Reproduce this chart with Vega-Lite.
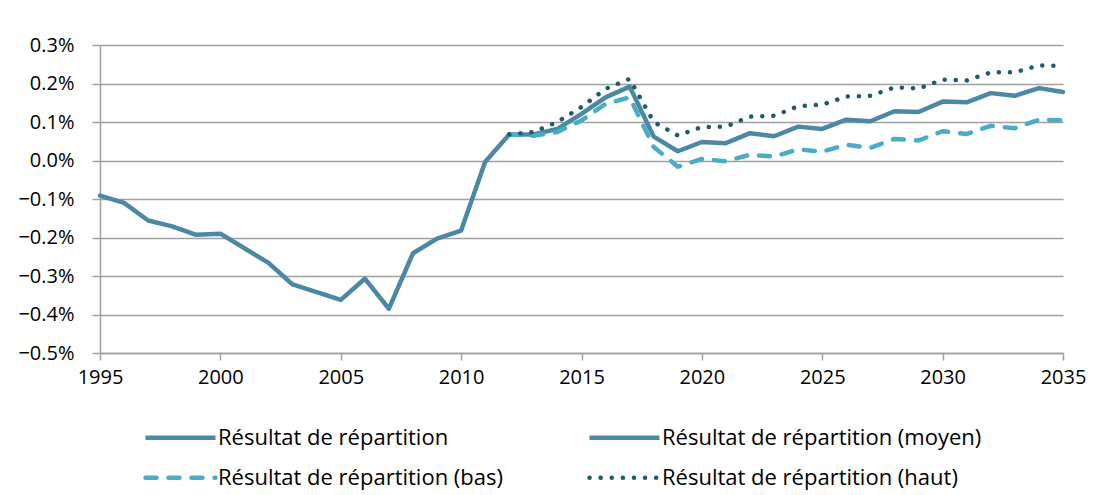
{
  "$schema": "https://vega.github.io/schema/vega-lite/v6.json",
  "autosize": {"type": "none"},
  "width": 963,
  "height": 308,
  "padding": {"left": 100, "top": 45, "right": 40, "bottom": 142},
  "background": "white",
  "config": {
    "view": {"stroke": null},
    "font": "Open Sans",
    "legend": {
      "title": null,
      "orient": "none",
      "direction": "horizontal",
      "columns": 2,
      "symbolType": "stroke",
      "symbolSize": 4900,
      "symbolStrokeWidth": 4.5,
      "labelFontSize": 22,
      "labelColor": "#000000",
      "labelOffset": 0,
      "labelLimit": 500
    }
  },
  "data": {
    "values": [
      {"year": 1995, "value": -0.091, "series": "Résultat de répartition"},
      {"year": 1996, "value": -0.110, "series": "Résultat de répartition"},
      {"year": 1997, "value": -0.156, "series": "Résultat de répartition"},
      {"year": 1998, "value": -0.171, "series": "Résultat de répartition"},
      {"year": 1999, "value": -0.193, "series": "Résultat de répartition"},
      {"year": 2000, "value": -0.190, "series": "Résultat de répartition"},
      {"year": 2001, "value": -0.228, "series": "Résultat de répartition"},
      {"year": 2002, "value": -0.266, "series": "Résultat de répartition"},
      {"year": 2003, "value": -0.322, "series": "Résultat de répartition"},
      {"year": 2004, "value": -0.342, "series": "Résultat de répartition"},
      {"year": 2005, "value": -0.362, "series": "Résultat de répartition"},
      {"year": 2006, "value": -0.307, "series": "Résultat de répartition"},
      {"year": 2007, "value": -0.385, "series": "Résultat de répartition"},
      {"year": 2008, "value": -0.241, "series": "Résultat de répartition"},
      {"year": 2009, "value": -0.203, "series": "Résultat de répartition"},
      {"year": 2010, "value": -0.182, "series": "Résultat de répartition"},
      {"year": 2011, "value": -0.003, "series": "Résultat de répartition"},
      {"year": 2012, "value": 0.0675, "series": "Résultat de répartition"},

      {"year": 2012, "value": 0.0675, "series": "Résultat de répartition (moyen)"},
      {"year": 2013, "value": 0.0675, "series": "Résultat de répartition (moyen)"},
      {"year": 2014, "value": 0.082, "series": "Résultat de répartition (moyen)"},
      {"year": 2015, "value": 0.121, "series": "Résultat de répartition (moyen)"},
      {"year": 2016, "value": 0.164, "series": "Résultat de répartition (moyen)"},
      {"year": 2017, "value": 0.192, "series": "Résultat de répartition (moyen)"},
      {"year": 2018, "value": 0.062, "series": "Résultat de répartition (moyen)"},
      {"year": 2019, "value": 0.024, "series": "Résultat de répartition (moyen)"},
      {"year": 2020, "value": 0.048, "series": "Résultat de répartition (moyen)"},
      {"year": 2021, "value": 0.045, "series": "Résultat de répartition (moyen)"},
      {"year": 2022, "value": 0.071, "series": "Résultat de répartition (moyen)"},
      {"year": 2023, "value": 0.063, "series": "Résultat de répartition (moyen)"},
      {"year": 2024, "value": 0.088, "series": "Résultat de répartition (moyen)"},
      {"year": 2025, "value": 0.082, "series": "Résultat de répartition (moyen)"},
      {"year": 2026, "value": 0.106, "series": "Résultat de répartition (moyen)"},
      {"year": 2027, "value": 0.102, "series": "Résultat de répartition (moyen)"},
      {"year": 2028, "value": 0.128, "series": "Résultat de répartition (moyen)"},
      {"year": 2029, "value": 0.126, "series": "Résultat de répartition (moyen)"},
      {"year": 2030, "value": 0.153, "series": "Résultat de répartition (moyen)"},
      {"year": 2031, "value": 0.151, "series": "Résultat de répartition (moyen)"},
      {"year": 2032, "value": 0.175, "series": "Résultat de répartition (moyen)"},
      {"year": 2033, "value": 0.168, "series": "Résultat de répartition (moyen)"},
      {"year": 2034, "value": 0.188, "series": "Résultat de répartition (moyen)"},
      {"year": 2035, "value": 0.178, "series": "Résultat de répartition (moyen)"},

      {"year": 2012, "value": 0.0675, "series": "Résultat de répartition (bas)"},
      {"year": 2013, "value": 0.064, "series": "Résultat de répartition (bas)"},
      {"year": 2014, "value": 0.074, "series": "Résultat de répartition (bas)"},
      {"year": 2015, "value": 0.104, "series": "Résultat de répartition (bas)"},
      {"year": 2016, "value": 0.147, "series": "Résultat de répartition (bas)"},
      {"year": 2017, "value": 0.164, "series": "Résultat de répartition (bas)"},
      {"year": 2018, "value": 0.035, "series": "Résultat de répartition (bas)"},
      {"year": 2019, "value": -0.016, "series": "Résultat de répartition (bas)"},
      {"year": 2020, "value": 0.004, "series": "Résultat de répartition (bas)"},
      {"year": 2021, "value": -0.002, "series": "Résultat de répartition (bas)"},
      {"year": 2022, "value": 0.015, "series": "Résultat de répartition (bas)"},
      {"year": 2023, "value": 0.010, "series": "Résultat de répartition (bas)"},
      {"year": 2024, "value": 0.029, "series": "Résultat de répartition (bas)"},
      {"year": 2025, "value": 0.023, "series": "Résultat de répartition (bas)"},
      {"year": 2026, "value": 0.041, "series": "Résultat de répartition (bas)"},
      {"year": 2027, "value": 0.033, "series": "Résultat de répartition (bas)"},
      {"year": 2028, "value": 0.056, "series": "Résultat de répartition (bas)"},
      {"year": 2029, "value": 0.052, "series": "Résultat de répartition (bas)"},
      {"year": 2030, "value": 0.076, "series": "Résultat de répartition (bas)"},
      {"year": 2031, "value": 0.069, "series": "Résultat de répartition (bas)"},
      {"year": 2032, "value": 0.090, "series": "Résultat de répartition (bas)"},
      {"year": 2033, "value": 0.084, "series": "Résultat de répartition (bas)"},
      {"year": 2034, "value": 0.106, "series": "Résultat de répartition (bas)"},
      {"year": 2035, "value": 0.104, "series": "Résultat de répartition (bas)"},

      {"year": 2012, "value": 0.0675, "series": "Résultat de répartition (haut)"},
      {"year": 2013, "value": 0.074, "series": "Résultat de répartition (haut)"},
      {"year": 2014, "value": 0.100, "series": "Résultat de répartition (haut)"},
      {"year": 2015, "value": 0.139, "series": "Résultat de répartition (haut)"},
      {"year": 2016, "value": 0.186, "series": "Résultat de répartition (haut)"},
      {"year": 2017, "value": 0.212, "series": "Résultat de répartition (haut)"},
      {"year": 2018, "value": 0.100, "series": "Résultat de répartition (haut)"},
      {"year": 2019, "value": 0.065, "series": "Résultat de répartition (haut)"},
      {"year": 2020, "value": 0.087, "series": "Résultat de répartition (haut)"},
      {"year": 2021, "value": 0.088, "series": "Résultat de répartition (haut)"},
      {"year": 2022, "value": 0.114, "series": "Résultat de répartition (haut)"},
      {"year": 2023, "value": 0.116, "series": "Résultat de répartition (haut)"},
      {"year": 2024, "value": 0.141, "series": "Résultat de répartition (haut)"},
      {"year": 2025, "value": 0.145, "series": "Résultat de répartition (haut)"},
      {"year": 2026, "value": 0.166, "series": "Résultat de répartition (haut)"},
      {"year": 2027, "value": 0.168, "series": "Résultat de répartition (haut)"},
      {"year": 2028, "value": 0.190, "series": "Résultat de répartition (haut)"},
      {"year": 2029, "value": 0.187, "series": "Résultat de répartition (haut)"},
      {"year": 2030, "value": 0.210, "series": "Résultat de répartition (haut)"},
      {"year": 2031, "value": 0.208, "series": "Résultat de répartition (haut)"},
      {"year": 2032, "value": 0.229, "series": "Résultat de répartition (haut)"},
      {"year": 2033, "value": 0.229, "series": "Résultat de répartition (haut)"},
      {"year": 2034, "value": 0.247, "series": "Résultat de répartition (haut)"},
      {"year": 2035, "value": 0.246, "series": "Résultat de répartition (haut)"}
    ]
  },
  "encoding": {
    "x": {
      "field": "year",
      "type": "quantitative",
      "scale": {"domain": [1995, 2035], "nice": false, "zero": false},
      "axis": {
        "title": null,
        "values": [1995, 2000, 2005, 2010, 2015, 2020, 2025, 2030, 2035],
        "format": "d",
        "grid": false,
        "domainColor": "#a0a0a0",
        "domainWidth": 1.5,
        "tickColor": "#a0a0a0",
        "tickWidth": 1.5,
        "tickSize": 7,
        "labelFontSize": 20,
        "labelColor": "#000000",
        "labelPadding": 7,
        "labelFlush": false
      }
    },
    "y": {
      "field": "value",
      "type": "quantitative",
      "scale": {"domain": [-0.5, 0.3], "nice": false, "zero": false},
      "axis": {
        "title": null,
        "values": [-0.5, -0.4, -0.3, -0.2, -0.1, 0, 0.1, 0.2, 0.3],
        "labelExpr": "format(datum.value, '.1f') + '%'",
        "grid": true,
        "gridColor": "#a0a0a0",
        "gridWidth": 1.5,
        "domainColor": "#a0a0a0",
        "domainWidth": 1.5,
        "tickColor": "#a0a0a0",
        "tickWidth": 1.5,
        "tickSize": 8,
        "labelFontSize": 20,
        "labelColor": "#000000",
        "labelPadding": 18
      }
    }
  },
  "layer": [
    {
      "transform": [{"filter": {"field": "series", "oneOf": ["Résultat de répartition", "Résultat de répartition (moyen)"]}}],
      "mark": {"type": "line", "strokeWidth": 4.5, "strokeCap": "round", "strokeJoin": "round"},
      "encoding": {
        "color": {
          "field": "series",
          "type": "nominal",
          "scale": {
            "domain": ["Résultat de répartition", "Résultat de répartition (moyen)"],
            "range": ["#4a89a1", "#4a89a1"]
          },
          "legend": {
            "legendX": 43,
            "legendY": 355,
            "columnPadding": 131
          }
        }
      }
    },
    {
      "transform": [{"filter": {"field": "series", "oneOf": ["Résultat de répartition (bas)", "Résultat de répartition (haut)"]}}],
      "mark": {"type": "line", "strokeWidth": 4.5, "strokeCap": "round", "strokeJoin": "round"},
      "encoding": {
        "color": {
          "field": "series",
          "type": "nominal",
          "scale": {
            "domain": ["Résultat de répartition (bas)", "Résultat de répartition (haut)"],
            "range": ["#4bacc6", "#1f5b6b"]
          },
          "legend": {
            "legendX": 43,
            "legendY": 395,
            "columnPadding": 76,
            "encode": {"symbols": {"update": {"strokeCap": {"value": "round"}}}}
          }
        },
        "strokeDash": {
          "field": "series",
          "type": "nominal",
          "scale": {
            "domain": ["Résultat de répartition (bas)", "Résultat de répartition (haut)"],
            "range": [[11, 12], [0.1, 11]]
          },
          "legend": null
        }
      }
    }
  ],
  "resolve": {
    "scale": {"color": "independent", "strokeDash": "independent"},
    "legend": {"color": "independent"}
  }
}
